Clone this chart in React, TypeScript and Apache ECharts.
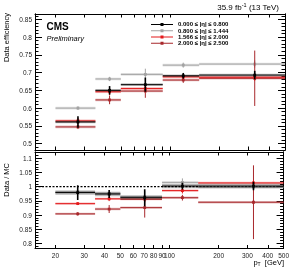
import React, { useEffect, useRef } from "react";
import * as echarts from "echarts";

// pT binning (GeV)
const ptEdges = [20, 35, 50, 90, 150, 500];
const ptCenters = [27.4, 42.7, 70.5, 120, 327];

const etaLabels = [
  "0.000 ≤ |η| ≤ 0.800",
  "0.800 ≤ |η| ≤ 1.444",
  "1.566 ≤ |η| ≤ 2.000",
  "2.000 ≤ |η| ≤ 2.500",
];
const etaColors = ["#000000", "#a3a3a3", "#e41a1c", "#a8282c"];

// Data efficiency
const effEta1 = [0.561, 0.65, 0.666, 0.691, 0.693];
const effEta2 = [0.6, 0.682, 0.695, 0.721, 0.724];
const effEta3 = [0.564, 0.646, 0.655, 0.688, 0.687];
const effEta4 = [0.547, 0.623, 0.648, 0.679, 0.684];
const effErr1 = [0.016, 0.012, 0.02, 0.008, 0.012];
const effErr2 = [0.005, 0.006, 0.016, 0.007, 0.01];
const effErr3 = [0.008, 0.01, 0.01, 0.007, 0.01];
const effErr4 = [0.006, 0.012, 0.019, 0.008, 0.078];

// Data / MC
const sfEta1 = [0.979, 0.974, 0.961, 1.002, 1.002];
const sfEta2 = [0.981, 0.976, 0.965, 1.015, 0.998];
const sfEta3 = [0.94, 0.957, 0.956, 0.986, 1.013];
const sfEta4 = [0.904, 0.921, 0.926, 0.961, 0.945];
const sfErr1 = [0.026, 0.014, 0.03, 0.012, 0.015];
const sfErr2 = [0.006, 0.006, 0.02, 0.014, 0.02];
const sfErr3 = [0.005, 0.008, 0.01, 0.01, 0.01];
const sfErr4 = [0.006, 0.014, 0.035, 0.01, 0.13];

// axis ticks
const xTickValues = [20, 30, 40, 50, 60, 70, 80, 90, 100, 200, 300, 400, 500];
const xRange = [15, 500];
const effTicks = [0.5, 0.55, 0.6, 0.65, 0.7, 0.75, 0.8, 0.85];
const effRange = [0.482, 0.865];
const sfTicks = [0.8, 0.85, 0.9, 0.95, 1, 1.05, 1.1];
const sfRange = [0.782, 1.122];

const FONT = "Liberation Sans, Arial, sans-serif";
const lg = (v: number) => Math.log10(v);

function minorTicks(range: number[], step: number) {
  const out: number[] = [];
  const start = Math.ceil(range[0] / step - 1e-9);
  const end = Math.floor(range[1] / step + 1e-9);
  for (let i = start; i <= end; i++) out.push(+(i * step).toFixed(4));
  return out;
}

function hexA(hex: string, a: number) {
  const r = parseInt(hex.slice(1, 3), 16);
  const g = parseInt(hex.slice(3, 5), 16);
  const b = parseInt(hex.slice(5, 7), 16);
  return `rgba(${r},${g},${b},${a})`;
}

function buildData(vals: number[], errs: number[]) {
  return vals.map((v, i) => [
    lg(ptCenters[i]),
    v,
    lg(ptEdges[i]),
    lg(ptEdges[i + 1]),
    errs[i],
  ]);
}

function makeSeries(
  name: string,
  color: string,
  vals: number[],
  errs: number[],
  xi: number,
  yi: number,
  bandHalf: number,
  bandColor: string,
  vWidth: number,
  z: number
) {
  return {
    type: "custom",
    name,
    xAxisIndex: xi,
    yAxisIndex: yi,
    clip: true,
    z,
    itemStyle: { color },
    encode: { x: [0, 2, 3], y: [1] },
    data: buildData(vals, errs),
    renderItem: (params: any, api: any) => {
      const xc = api.value(0);
      const y = api.value(1);
      const xl = api.value(2);
      const xh = api.value(3);
      const e = api.value(4);
      const pc = api.coord([xc, y]);
      const pl = api.coord([xl, y]);
      const ph = api.coord([xh, y]);
      const pt = api.coord([xc, y + e]);
      const pb = api.coord([xc, y - e]);
      return {
        type: "group",
        children: [
          {
            type: "rect",
            shape: { x: pl[0], y: pc[1] - bandHalf, width: ph[0] - pl[0], height: 2 * bandHalf },
            style: { fill: bandColor },
          },
          {
            type: "line",
            shape: { x1: pl[0], y1: pc[1], x2: ph[0], y2: pc[1] },
            style: { stroke: color, lineWidth: 1 },
          },
          {
            type: "line",
            shape: { x1: pc[0], y1: pt[1], x2: pc[0], y2: pb[1] },
            style: { stroke: color, lineWidth: vWidth },
          },
          {
            type: "rect",
            shape: { x: pc[0] - 1.4, y: pc[1] - 1.4, width: 2.8, height: 2.8 },
            style: { fill: color },
          },
        ],
      };
    },
  };
}

const xTicksLog = xTickValues.map(lg);

function xAxisDef(gridIndex: number, position: string, labels: boolean) {
  return {
    type: "value",
    gridIndex,
    position,
    min: lg(xRange[0]),
    max: lg(xRange[1]),
    axisLine: { show: true, onZero: false, lineStyle: { color: "#000", width: 1 } },
    axisTick: {
      show: true,
      inside: true,
      length: 3.5,
      customValues: xTicksLog,
      lineStyle: { color: "#000", width: 1 },
    },
    axisLabel: labels
      ? {
          show: true,
          customValues: xTicksLog,
          formatter: (v: number) => String(Math.round(Math.pow(10, v))),
          fontSize: 6.5,
          fontFamily: FONT,
          color: "#222",
          margin: 3.5,
          showMinLabel: true,
          showMaxLabel: true,
        }
      : { show: false },
    splitLine: { show: false },
  };
}

function yAxisDef(
  gridIndex: number,
  position: string,
  range: number[],
  ticks: number[],
  len: number,
  labels: boolean
) {
  return {
    type: "value",
    gridIndex,
    position,
    min: range[0],
    max: range[1],
    axisLine: { show: true, onZero: false, lineStyle: { color: "#000", width: 1 } },
    axisTick: {
      show: true,
      inside: true,
      length: len,
      customValues: ticks,
      lineStyle: { color: "#000", width: 1 },
    },
    axisLabel: labels
      ? {
          show: true,
          customValues: ticks,
          formatter: (v: number) => String(+v.toFixed(2)),
          fontSize: 6.5,
          fontFamily: FONT,
          color: "#222",
          margin: 3,
          showMinLabel: true,
          showMaxLabel: true,
        }
      : { show: false },
    splitLine: { show: false },
  };
}

const legendIcon = "path://M0,1 L22,1 L22,2 L0,2 Z M9.5,0 L12.5,0 L12.5,3 L9.5,3 Z";

export default function App() {
  const ref = useRef<HTMLDivElement>(null);

  useEffect(() => {
    if (!ref.current) return;
    const chart = echarts.init(ref.current, undefined, { renderer: "svg" });

    const effMinor = minorTicks(effRange, 0.01);
    const sfMinor = minorTicks(sfRange, 0.01);

    const effVals = [effEta1, effEta2, effEta3, effEta4];
    const effErrs = [effErr1, effErr2, effErr3, effErr4];
    const sfVals = [sfEta1, sfEta2, sfEta3, sfEta4];
    const sfErrs = [sfErr1, sfErr2, sfErr3, sfErr4];
    const drawOrder = [1, 3, 2, 0];

    const series: any[] = [];
    drawOrder.forEach((k, j) => {
      const c = etaColors[k];
      const band = k === 0 ? "rgba(0,0,0,0.25)" : hexA(c, 0.3);
      series.push(
        makeSeries(etaLabels[k], c, effVals[k], effErrs[k], 0, 0, 1.3, band, k === 0 ? 1.6 : 1, 3 + j)
      );
      series.push(
        makeSeries(
          etaLabels[k],
          c,
          sfVals[k],
          sfErrs[k],
          2,
          4,
          k === 0 ? 2.2 : 1.2,
          k === 0 ? "rgba(0,0,0,0.28)" : hexA(c, 0.3),
          k === 0 ? 1.6 : 1,
          3 + j
        )
      );
    });
    series.push({
      type: "line",
      name: "unity",
      xAxisIndex: 2,
      yAxisIndex: 4,
      z: 2,
      symbol: "none",
      silent: true,
      data: [
        [lg(xRange[0]), 1],
        [lg(xRange[1]), 1],
      ],
      lineStyle: { color: "#000", width: 1.3, type: [2, 1.5] },
    });

    chart.setOption({
      animation: false,
      grid: [
        { left: 35, right: 7, top: 14, height: 136 },
        { left: 35, right: 7, top: 152, bottom: 18.5 },
      ],
      xAxis: [
        xAxisDef(0, "bottom", false),
        xAxisDef(0, "top", false),
        xAxisDef(1, "bottom", true),
        xAxisDef(1, "top", false),
      ],
      yAxis: [
        yAxisDef(0, "left", effRange, effTicks, 7, true),
        yAxisDef(0, "left", effRange, effMinor, 3.5, false),
        yAxisDef(0, "right", effRange, effTicks, 7, false),
        yAxisDef(0, "right", effRange, effMinor, 3.5, false),
        yAxisDef(1, "left", sfRange, sfTicks, 7, true),
        yAxisDef(1, "left", sfRange, sfMinor, 3.5, false),
        yAxisDef(1, "right", sfRange, sfTicks, 7, false),
        yAxisDef(1, "right", sfRange, sfMinor, 3.5, false),
      ],
      legend: {
        orient: "vertical",
        left: 151,
        top: 21.4,
        padding: 0,
        itemGap: 0.3,
        itemWidth: 22,
        itemHeight: 3,
        selectedMode: false,
        textStyle: {
          fontSize: 6,
          fontWeight: "bold",
          fontFamily: FONT,
          color: "#000",
          lineHeight: 5,
        },
        data: etaLabels.map((n, k) => ({ name: n, icon: legendIcon, itemStyle: { color: etaColors[k] } })),
      },
      graphic: [
        {
          type: "text",
          x: 279,
          y: 7,
          style: {
            text: "{a|35.9 fb}{s|-1}{a| (13 TeV)}",
            align: "right",
            verticalAlign: "middle",
            rich: {
              a: { fontSize: 8, fontFamily: FONT, fill: "#000", lineHeight: 10 },
              s: { fontSize: 5.5, fontFamily: FONT, fill: "#000", verticalAlign: "top", lineHeight: 10 },
            },
          },
        },
        {
          type: "text",
          x: 46.5,
          y: 26,
          style: {
            text: "CMS",
            fontSize: 10,
            fontWeight: "bold",
            fontFamily: FONT,
            fill: "#000",
            verticalAlign: "middle",
          },
        },
        {
          type: "text",
          x: 46.5,
          y: 38.7,
          style: {
            text: "Preliminary",
            fontSize: 7.5,
            fontStyle: "italic",
            fontFamily: FONT,
            fill: "#000",
            verticalAlign: "middle",
          },
        },
        {
          type: "text",
          x: 6,
          y: 13,
          rotation: Math.PI / 2,
          style: {
            text: "Data efficiency",
            fontSize: 7.5,
            fontFamily: FONT,
            fill: "#000",
            align: "right",
            verticalAlign: "middle",
          },
        },
        {
          type: "text",
          x: 6,
          y: 163,
          rotation: Math.PI / 2,
          style: {
            text: "Data / MC",
            fontSize: 7.5,
            fontFamily: FONT,
            fill: "#000",
            align: "right",
            verticalAlign: "middle",
          },
        },
        {
          type: "text",
          x: 284,
          y: 262,
          style: {
            text: "{p|p}{t|T}{g|  [GeV]}",
            align: "right",
            verticalAlign: "middle",
            rich: {
              p: { fontSize: 7.5, fontFamily: FONT, fill: "#000", lineHeight: 9 },
              t: { fontSize: 5, fontFamily: FONT, fill: "#000", verticalAlign: "bottom", lineHeight: 9 },
              g: { fontSize: 7.5, fontFamily: FONT, fill: "#000", lineHeight: 9 },
            },
          },
        },
      ],
      series,
    });

    return () => chart.dispose();
  }, []);

  return <div ref={ref} style={{ width: 292, height: 267, position: "fixed", left: 0, top: 0 }} />;
}
